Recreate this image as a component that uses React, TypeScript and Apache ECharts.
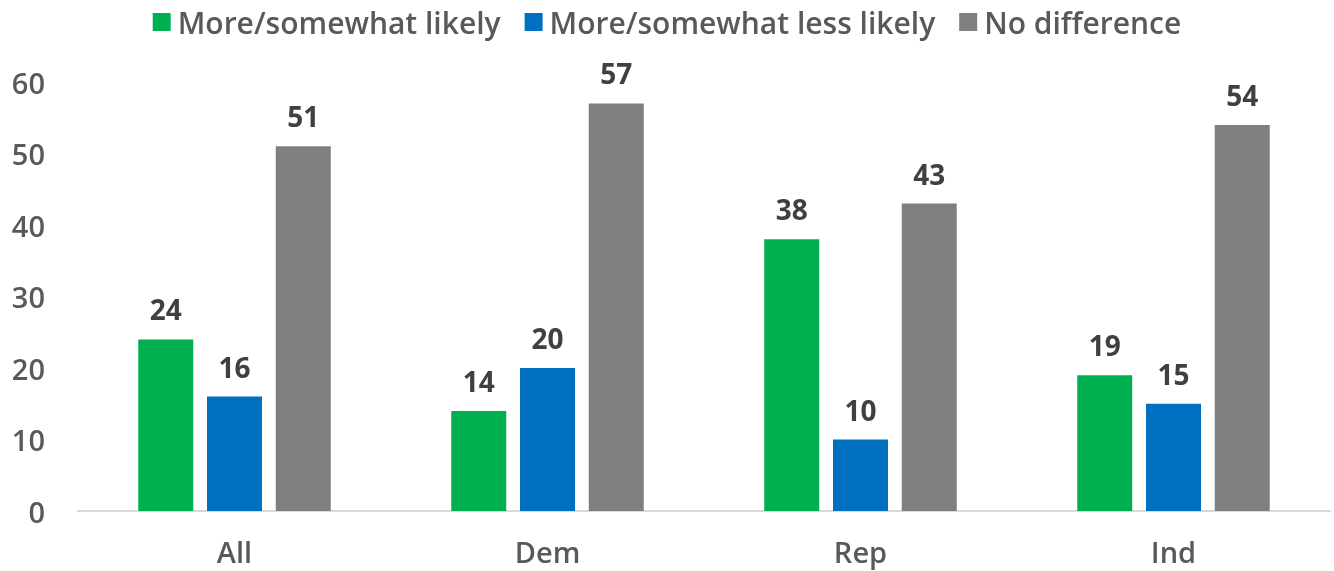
import React, { useEffect, useRef } from "react";
import * as echarts from "echarts";

const categories = ["All", "Dem", "Rep", "Ind"];
const moreLikely = [24, 14, 38, 19];
const lessLikely = [16, 20, 10, 15];
const noDifference = [51, 57, 43, 54];
const seriesNames = ["More/somewhat likely", "More/somewhat less likely", "No difference"];
const colors = ["#00B050", "#0070C0", "#7F7F7F"];

const FONT = "'Open Sans', sans-serif";

export default function App() {
  const ref = useRef<HTMLDivElement>(null);
  useEffect(() => {
    if (!ref.current) return;
    const chart = echarts.init(ref.current, undefined, { renderer: "svg" });
    const label = {
      show: true,
      position: "top" as const,
      distance: 16,
      color: "#404040",
      fontSize: 28,
      fontWeight: "bold" as const,
      fontFamily: FONT,
    };
    const datasets = [moreLikely, lessLikely, noDifference];
    chart.setOption({
      animation: false,
      color: colors,
      legend: {
        top: 2,
        left: "center",
        itemWidth: 18,
        itemHeight: 18,
        itemGap: 24,
        icon: "rect",
        textStyle: { color: "#595959", fontSize: 30, fontWeight: 600, fontFamily: FONT, padding: [0, 0, 0, 2] },
        data: seriesNames,
      },
      grid: { left: 78, right: 4, top: 82, bottom: 60, containLabel: false },
      xAxis: {
        type: "category",
        data: categories,
        axisLine: { lineStyle: { color: "#D9D9D9", width: 2 } },
        axisTick: { show: false },
        axisLabel: { color: "#595959", fontSize: 29, fontWeight: 600, fontFamily: FONT, margin: 26 },
      },
      yAxis: {
        type: "value",
        min: 0,
        max: 60,
        interval: 10,
        splitLine: { show: false },
        axisLine: { show: false },
        axisTick: { show: false },
        axisLabel: { color: "#595959", fontSize: 29, fontWeight: 600, fontFamily: FONT, margin: 33 },
      },
      series: seriesNames.map((name, i) => ({
        name,
        type: "bar",
        data: datasets[i],
        barWidth: 55,
        barGap: "25%",
        label,
      })),
    });
    return () => chart.dispose();
  }, []);
  return <div ref={ref} style={{ position: "fixed", left: 0, top: 0, width: 1334, height: 571 }} />;
}
